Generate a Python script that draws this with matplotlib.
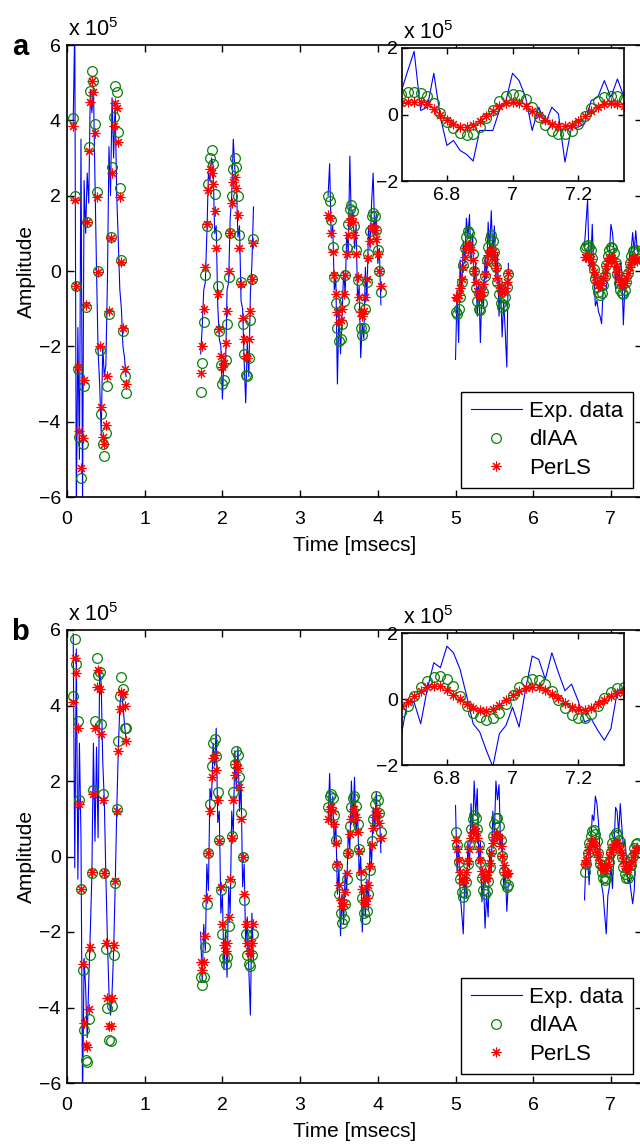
import numpy as np
import matplotlib
matplotlib.use("Agg")
import matplotlib.pyplot as plt
from matplotlib.lines import Line2D

plt.rcParams.update({
    "font.family": ["Liberation Sans", "DejaVu Sans"],
    "font.size": 14,
    "mathtext.fontset": "custom",
    "mathtext.rm": "Liberation Sans",
    "mathtext.it": "Liberation Sans",
    "axes.linewidth": 1.2,
    "xtick.direction": "in",
    "ytick.direction": "in",
    "xtick.top": True,
    "ytick.right": True,
})

BLUE = "#0000ff"
GREEN = "#0a800a"
RED = "#ff0000"
STAR = (8, 2, 0)   # matlab-like asterisk

# segment start times [msecs] and sampling step [msecs]
seg_start = [0.08, 1.72, 3.36, 5.00, 6.66]
dt = 0.02

# ---- panel a (amplitude in units of 1e5) -----------------------------------
exp_a = [
    [4.0, 6.5, -6.5, -1.5, -5.0, 3.5, -6.2, 2.4, 1.0, 2.6, 1.8, 4.8, 4.2, 4.9, 2.4, 0.0, -2.1, -3.0,
     -4.3, -2.0, -2.8, -2.5, -0.3, 3.3, 2.0, 4.6, 3.0, 4.5, 2.0, 0.8, -0.5, -1.0, -2.0, -2.3, -2.8],
    [-2.2, -1.5, -0.5, -0.3, 1.0, 2.6, 2.4, 3.0, 2.8, 1.0, 1.2, -0.9, -1.8, -2.0, -3.4, -2.3, -2.6, -0.5,
     -0.3, 1.4, 2.0, 3.5, 2.7, 2.3, 0.9, 1.2, -0.8, -1.0, -2.4, -3.5, -1.9, -2.8, -0.6, 0.2, 1.7],
    [2.0, 2.85, 0.9, 1.2, -0.5, -0.2, -3.0, -1.0, -2.2, -1.2, 0.0, -0.6, 1.0, 0.5, 3.05, 1.2, 1.6, 0.6,
     1.2, -0.8, -0.4, -2.3, -1.4, -1.8, 0.1, -0.8, 1.2, 0.6, 1.8, 2.6, 1.0, 1.5, 0.2, 0.6, -0.9],
    [-2.35, -0.5, -1.9, 0.3, -0.6, 0.8, 0.2, 1.4, 0.9, 1.5, 0.2, 1.0, -0.4, 0.2, -1.2, -0.3, -1.9, -0.5,
     -1.0, 0.4, -0.2, 1.3, 0.6, 1.6, 0.4, 1.2, -0.2, 0.5, -1.2, -0.4, -1.75, -0.8, -1.6, -2.55, 0.2],
    [0.67, 1.3, 1.9, 0.12, 0.22, 1.24, -0.08, -0.93, -0.78, -1.08, -1.2, -1.4, -0.48, -0.48, -0.48, 0.12,
     0.42, 1.24, 1.02, 0.52, -0.48, 0.22, -0.28, 0.22, 0.02, -1.43, -0.38, -0.38, -0.28, 0.42, 0.52,
     1.02, 0.52, 1.07, 0.52],
]
diaa_a = [
    [4.05, 2.0, -0.4, -2.6, -4.4, -5.5, -4.6, -3.05, -0.95, 1.3, 3.3, 4.77, 5.3, 5.05, 3.9, 2.1, 0.0,
     -2.1, -3.8, -4.6, -4.9, -4.3, -3.05, -1.15, 0.9, 2.77, 4.1, 4.9, 4.75, 3.7, 2.2, 0.3, -1.6, -2.8, -3.25],
    [-3.2, -2.45, -1.35, -0.1, 1.2, 2.3, 3.0, 3.2, 2.85, 2.05, 0.95, -0.4, -1.6, -2.5, -3.0, -2.9, -2.35,
     -1.4, -0.15, 1.0, 2.0, 2.7, 3.0, 2.75, 2.0, 0.95, -0.3, -1.4, -2.2, -2.75, -2.8, -2.3, -1.3, -0.2, 0.85],
    [2.0, 1.85, 1.35, 0.65, -0.15, -0.85, -1.5, -1.85, -1.8, -1.4, -0.8, -0.1, 0.6, 1.25, 1.65, 1.75, 1.6,
     1.2, 0.55, -0.25, -0.95, -1.5, -1.7, -1.5, -1.0, -0.3, 0.45, 1.05, 1.45, 1.55, 1.45, 1.1, 0.55, 0.0, -0.55],
    [-1.1, -1.15, -1.0, -0.7, -0.3, 0.15, 0.6, 0.9, 1.05, 1.0, 0.8, 0.45, 0.0, -0.45, -0.8, -1.0, -1.03,
     -0.85, -0.55, -0.12, 0.3, 0.65, 0.85, 0.95, 0.8, 0.5, 0.1, -0.3, -0.62, -0.85, -0.95, -0.9, -0.7, -0.42, -0.08],
    [0.62, 0.67, 0.68, 0.65, 0.55, 0.35, 0.05, -0.22, -0.42, -0.57, -0.63, -0.58, -0.38, -0.12, 0.15, 0.40,
     0.57, 0.63, 0.60, 0.47, 0.22, -0.08, -0.32, -0.50, -0.58, -0.60, -0.50, -0.30, -0.05, 0.20, 0.40,
     0.52, 0.57, 0.55, 0.47],
]
perls_a = [
    [3.85, 1.88, -0.39, -2.56, -4.26, -5.23, -4.43, -2.9, -0.9, 1.31, 3.18, 4.49, 5.05, 4.76, 3.66, 1.96,
     -0.03, -1.99, -3.6, -4.4, -4.6, -4.1, -2.8, -1.05, 0.87, 2.6, 3.85, 4.45, 4.32, 3.43, 1.97, 0.25,
     -1.51, -2.6, -3.0],
    [-2.7, -2.0, -1.0, 0.1, 1.25, 2.15, 2.7, 2.6, 2.3, 1.6, 0.6, -0.6, -1.55, -2.25, -2.55, -2.45, -1.9,
     -1.05, 0.0, 1.0, 1.8, 2.35, 2.5, 2.2, 1.5, 0.6, -0.35, -1.25, -1.8, -2.25, -2.3, -1.8, -1.05, -0.2, 0.75],
    [1.5, 1.4, 1.0, 0.5, -0.1, -0.6, -1.1, -1.35, -1.3, -1.0, -0.6, -0.1, 0.45, 0.95, 1.3, 1.4, 1.3, 0.95,
     0.45, -0.15, -0.7, -1.1, -1.2, -1.05, -0.7, -0.2, 0.35, 0.8, 1.15, 1.2, 1.1, 0.85, 0.45, 0.0, -0.4],
    [-0.7, -0.72, -0.65, -0.45, -0.2, 0.1, 0.38, 0.6, 0.7, 0.68, 0.55, 0.3, 0.0, -0.3, -0.52, -0.65, -0.66,
     -0.55, -0.35, -0.08, 0.2, 0.42, 0.55, 0.57, 0.5, 0.32, 0.08, -0.18, -0.38, -0.52, -0.56, -0.55, -0.45,
     -0.28, -0.05],
    [0.36, 0.37, 0.38, 0.37, 0.31, 0.17, -0.03, -0.16, -0.28, -0.37, -0.38, -0.33, -0.19, -0.05, 0.12, 0.26,
     0.34, 0.37, 0.34, 0.26, 0.12, -0.03, -0.18, -0.29, -0.34, -0.36, -0.31, -0.19, -0.04, 0.11, 0.23,
     0.31, 0.34, 0.31, 0.27],
]

# ---- panel b -----------------------------------------------------------------
exp_b = [
    [5.9, -0.3, 5.5, -0.6, 3.0, 0.5, -6.5, -2.7, -3.5, -4.8, -3.3, -2.0, -0.5, 3.0, 0.4, 2.9, 0.5, 4.9,
     4.6, 2.5, 1.5, -0.5, -2.2, -3.6, -4.2, -3.6, -2.5, -0.8, 1.2, 2.8, 4.0, 4.4, 4.0, 3.5, 3.1],
    [-2.0, -3.3, -1.8, -2.5, -0.2, -0.9, 1.8, 1.5, 3.0, 2.4, 3.4, 0.9, 1.2, -1.5, -1.0, -3.0, -2.0, -3.2,
     -0.8, -1.5, 1.2, 0.6, 2.8, 1.8, 2.9, 1.2, 2.0, -0.8, -0.2, -2.4, -1.6, -3.0, -4.2, -1.5, -2.8],
    [0.9, 2.2, 0.8, 1.6, 0.3, 0.9, -1.0, -0.3, -2.1, -1.0, -1.8, -0.4, -0.9, 0.7, 0.2, 2.0, 0.9, 2.1, 0.6,
     1.2, -0.5, 0.0, -2.0, -0.9, -1.6, -0.6, -1.4, 0.4, -0.2, 1.3, 0.7, 1.7, 0.8, 1.2, 0.1],
    [1.35, -0.4, 0.3, -1.0, -1.5, -2.05, -0.5, -1.1, 0.4, -0.3, 1.4, 0.6, 2.0, 1.1, 1.8, -0.2, 0.4, -1.2,
     -0.6, -1.9, -1.0, -1.6, 0.2, -0.4, 1.2, 0.6, 2.0, 1.5, 1.9, 0.3, 0.6, -0.9, -0.3, -1.45, -0.7],
    [-1.15, -0.05, -0.1, -0.75, 0.3, 1.1, 0.95, 1.6, 1.4, 0.9, 0.1, -0.75, -1.0, -1.55, -2.05, -1.05,
     -0.8, -0.25, -0.85, 0.3, 1.3, 1.2, 0.6, 1.4, 0.8, 0.25, 0.45, -0.05, -0.7, -0.6, -0.95, -1.25, -0.9,
     0.25, 0.35],
]
diaa_b = [
    [4.25, 5.75, 5.1, 3.6, 1.5, -0.85, -3.0, -4.6, -5.4, -5.45, -4.3, -2.6, -0.45, 1.75, 3.6, 5.25, 4.8,
     4.9, 3.5, 1.65, -0.45, -2.45, -4.0, -4.85, -4.9, -3.95, -2.6, -0.7, 1.25, 3.05, 4.25, 4.75, 4.45, 3.4, 3.4],
    [-3.2, -3.4, -3.2, -2.4, -1.25, 0.1, 1.4, 2.4, 3.0, 3.1, 2.65, 1.7, 0.45, -0.9, -2.05, -2.7, -2.85,
     -2.65, -1.85, -0.7, 0.55, 1.7, 2.45, 2.8, 2.7, 2.1, 1.15, 0.0, -1.15, -2.05, -2.6, -2.85, -2.9, -2.6, -2.05],
    [1.3, 1.6, 1.65, 1.55, 1.1, 0.45, -0.25, -1.0, -1.5, -1.75, -1.65, -1.25, -0.6, 0.1, 0.8, 1.3, 1.55,
     1.6, 1.35, 0.85, 0.2, -0.5, -1.1, -1.5, -1.65, -1.45, -1.0, -0.35, 0.4, 1.0, 1.4, 1.6, 1.5, 1.15, 0.65],
    [0.65, 0.3, -0.15, -0.6, -0.95, -1.08, -0.98, -0.68, -0.2, 0.3, 0.72, 1.0, 1.1, 1.02, 0.72, 0.3, -0.15,
     -0.58, -0.88, -1.0, -0.92, -0.65, -0.28, 0.15, 0.55, 0.85, 1.02, 1.02, 0.8, 0.45, 0.02, -0.38, -0.68,
     -0.8, -0.75],
    [-0.4, -0.2, 0.1, 0.35, 0.55, 0.68, 0.7, 0.6, 0.4, 0.1, -0.2, -0.42, -0.56, -0.63, -0.58, -0.42, -0.15,
     0.12, 0.37, 0.55, 0.62, 0.58, 0.45, 0.25, -0.02, -0.28, -0.47, -0.58, -0.57, -0.45, -0.22, 0.02,
     0.22, 0.32, 0.35],
]
perls_b = [
    [4.1, 5.25, 4.85, 3.4, 1.4, -0.85, -2.85, -4.4, -5.0, -5.05, -4.05, -2.4, -0.4, 1.65, 3.4, 4.5, 4.95,
     4.45, 3.25, 1.5, -0.45, -2.3, -3.75, -4.5, -4.5, -3.75, -2.35, -0.65, 1.2, 2.8, 3.9, 4.35, 4.3, 4.0, 3.05],
    [-2.8, -3.0, -2.8, -2.1, -1.1, 0.1, 1.2, 2.1, 2.6, 2.7, 2.3, 1.5, 0.4, -0.8, -1.8, -2.35, -2.5, -2.3,
     -1.6, -0.6, 0.5, 1.5, 2.15, 2.45, 2.35, 1.85, 1.0, 0.0, -1.0, -1.8, -2.3, -2.5, -2.55, -2.3, -1.8],
    [1.0, 1.25, 1.3, 1.2, 0.85, 0.35, -0.2, -0.75, -1.15, -1.3, -1.25, -0.95, -0.45, 0.1, 0.6, 1.0, 1.2,
     1.25, 1.05, 0.65, 0.15, -0.4, -0.85, -1.15, -1.25, -1.1, -0.75, -0.25, 0.3, 0.75, 1.05, 1.2, 1.15, 0.9, 0.5],
    [0.45, 0.2, -0.1, -0.4, -0.6, -0.68, -0.62, -0.42, -0.12, 0.2, 0.48, 0.66, 0.73, 0.68, 0.48, 0.2, -0.1,
     -0.38, -0.55, -0.6, -0.58, -0.42, -0.18, 0.1, 0.35, 0.52, 0.6, 0.6, 0.48, 0.28, 0.02, -0.22, -0.4,
     -0.47, -0.45],
    [-0.2, -0.1, 0.1, 0.25, 0.35, 0.4, 0.38, 0.28, 0.13, 0.0, -0.16, -0.27, -0.34, -0.35, -0.31, -0.19,
     -0.02, 0.11, 0.24, 0.34, 0.37, 0.35, 0.28, 0.16, 0.03, -0.13, -0.24, -0.31, -0.32, -0.26, -0.14,
     -0.02, 0.08, 0.18, 0.22],
]

main_xticks = [0, 1, 2, 3, 4, 5, 6, 7]
main_yticks = [-6, -4, -2, 0, 2, 4, 6]
inset_xticks = [6.8, 7.0, 7.2]
inset_xlabels = ["6.8", "7", "7.2"]
inset_yticks = [-2, 0, 2]

W, H = 640, 1145
fig = plt.figure(figsize=(W / 100, H / 100), dpi=100)

CIRCLE_KW = dict(ls="none", marker="o", ms=7, mfc="none", mec=GREEN, mew=0.9)
STAR_KW = dict(ls="none", marker=STAR, ms=7, color=RED, mew=0.8)


def px_rect(left, top, right, bottom):
    return [left / W, 1 - bottom / H, (right - left) / W, (bottom - top) / H]


def draw_series(ax, k, exp, diaa, perls):
    t = seg_start[k] + dt * np.arange(len(exp[k]))
    ax.plot(t, exp[k], color=BLUE, lw=0.8)
    ax.plot(t, diaa[k], **CIRCLE_KW)
    ax.plot(t, perls[k], **STAR_KW)


def sci_label(ax):
    ax.annotate("x 10$^{5}$", xy=(0, 1), xycoords="axes fraction", xytext=(1, 6.5),
                textcoords="offset points", ha="left", va="baseline", fontsize=15.5)


def panel(top, bottom, inset_top, inset_bottom, exp, diaa, perls, tag):
    ax = fig.add_axes(px_rect(67, top, 642, bottom))
    for k in range(len(seg_start)):
        draw_series(ax, k, exp, diaa, perls)
    ax.set_xlim(0, 7.4)
    ax.set_ylim(-6, 6)
    ax.set_xticks(main_xticks)
    ax.set_yticks(main_yticks)
    ax.tick_params(axis="x", length=5, width=1, pad=10)
    ax.tick_params(axis="y", length=5, width=1, pad=4.5)
    ax.set_xlabel("Time [msecs]", fontsize=15, labelpad=6)
    ax.set_ylabel("Amplitude", fontsize=15, labelpad=2)
    sci_label(ax)
    handles = [Line2D([], [], color=BLUE, lw=0.8), Line2D([], [], **CIRCLE_KW),
               Line2D([], [], **STAR_KW)]
    leg = ax.legend(handles, ["Exp. data", "dIAA", "PerLS"], loc="lower right",
                    bbox_to_anchor=(633 / W, 1 - (bottom - 9) / H), bbox_transform=fig.transFigure,
                    fontsize=16, fancybox=False, framealpha=1, edgecolor="black",
                    handlelength=2.3, handletextpad=0.35, labelspacing=0.33, borderpad=0.42,
                    borderaxespad=0)
    leg.get_frame().set_linewidth(1.0)
    fig.text(20 / W, 1 - (top + 2) / H, tag, fontsize=21, fontweight="bold", ha="center", va="center")

    ins = fig.add_axes(px_rect(402, inset_top, 624, inset_bottom))
    ins.set_facecolor("white")
    draw_series(ins, 4, exp, diaa, perls)
    ins.set_xlim(6.663, 7.34)
    ins.set_ylim(-2, 2)
    ins.set_xticks(inset_xticks)
    ins.set_xticklabels(inset_xlabels)
    ins.set_yticks(inset_yticks)
    ins.tick_params(length=4, width=1, pad=3)
    ins.tick_params(axis="x", pad=4.5)
    sci_label(ins)
    return ax


panel(45, 497, 48, 181, exp_a, diaa_a, perls_a, "a")
panel(630, 1083, 633, 765, exp_b, diaa_b, perls_b, "b")

fig.savefig("out.png", dpi=100)
